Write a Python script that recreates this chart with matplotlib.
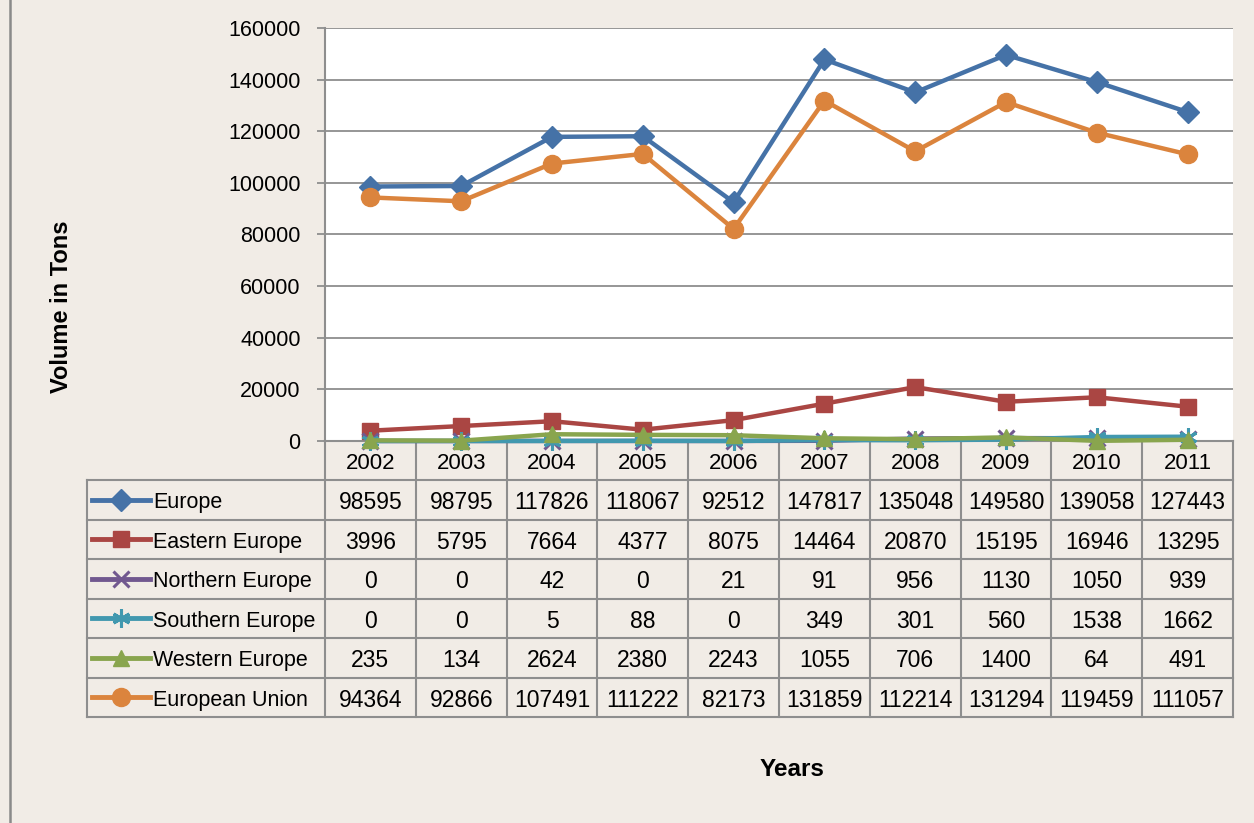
import matplotlib.pyplot as plt
import matplotlib.transforms as mtransforms
from matplotlib.lines import Line2D

plt.rcParams['font.family'] = ['Liberation Sans', 'DejaVu Sans']

years = ['2002', '2003', '2004', '2005', '2006', '2007', '2008', '2009', '2010', '2011']
series_names = ['Europe', 'Eastern Europe', 'Northern Europe', 'Southern Europe',
                'Western Europe', 'European Union']
europe = [98595, 98795, 117826, 118067, 92512, 147817, 135048, 149580, 139058, 127443]
eastern = [3996, 5795, 7664, 4377, 8075, 14464, 20870, 15195, 16946, 13295]
northern = [0, 0, 42, 0, 21, 91, 956, 1130, 1050, 939]
southern = [0, 0, 5, 88, 0, 349, 301, 560, 1538, 1662]
western = [235, 134, 2624, 2380, 2243, 1055, 706, 1400, 64, 491]
eu = [94364, 92866, 107491, 111222, 82173, 131859, 112214, 131294, 119459, 111057]
y_ticks = [0, 20000, 40000, 60000, 80000, 100000, 120000, 140000, 160000]

values = [europe, eastern, northern, southern, western, eu]
colors = ['#4572A7', '#AA4643', '#71588F', '#4198AF', '#89A54E', '#DB843D']
markers = ['D', 's', 'x', (6, 2, 0), '^', 'o']
msizes = [11, 11, 11, 13, 12, 13]

bg = '#F1ECE6'
grid_col = '#8E8E8E'
W, H = 1254, 823

fig = plt.figure(figsize=(W / 100, H / 100), dpi=100, facecolor=bg)
ax = fig.add_axes([325 / W, 1 - 441 / H, 908 / W, 413 / H])
ax.set_facecolor('white')

x = list(range(len(years)))
for vals, c, m, ms in zip(values, colors, markers, msizes):
    ax.plot(x, vals, color=c, lw=3.2, marker=m, markersize=ms,
            markeredgewidth=2.2 if m in ('x', (6, 2, 0)) else 1, markeredgecolor=c,
            clip_on=False, zorder=3)

ax.set_xlim(-0.5, len(years) - 0.5)
ax.set_ylim(0, 160000)
ax.set_yticks(y_ticks)
ax.set_yticklabels([str(t) for t in y_ticks], fontsize=15.5)
ax.set_xticks([])
ax.yaxis.grid(True, color=grid_col, lw=1.3)
ax.set_axisbelow(True)
ax.tick_params(axis='y', direction='out', length=6, width=1.3, color=grid_col, pad=11.5)
for s in ['top', 'right']:
    ax.spines[s].set_visible(False)
for s in ['left', 'bottom']:
    ax.spines[s].set_color(grid_col)
    ax.spines[s].set_linewidth(1.5)

# data table below the plot
px = 1 / 413  # one pixel in axes fraction (vertical)
hdr_bottom = -39 * px
row_h = 39.5 * px
n_rows = len(series_names)
table_bottom = hdr_bottom - n_rows * row_h
leg_left = (87 - 325) / 908
blend = mtransforms.blended_transform_factory(ax.transData, ax.transAxes)
tbl_kw = dict(color=grid_col, lw=1.5, clip_on=False)
txt_shift = 3 * px  # nudge text down a little to sit centred like the original

# vertical column lines
for i in range(len(years) + 1):
    ax.add_line(Line2D([i - 0.5, i - 0.5], [0, table_bottom], transform=blend, **tbl_kw))
ax.add_line(Line2D([leg_left, leg_left], [hdr_bottom, table_bottom],
                   transform=ax.transAxes, **tbl_kw))
# horizontal row lines
for r in range(n_rows + 1):
    yy = hdr_bottom - r * row_h
    ax.add_line(Line2D([leg_left, 1], [yy, yy], transform=ax.transAxes, **tbl_kw))

# year header
for i, yr in enumerate(years):
    ax.text(i, hdr_bottom / 2 - txt_shift, yr, transform=blend, ha='center', va='center',
            fontsize=16)

# rows with legend keys
key_x0, key_x1 = (92 - 325) / 908, (150 - 325) / 908
label_x = (153 - 325) / 908
for r, (name, vals, c, m, ms) in enumerate(zip(series_names, values, colors, markers, msizes)):
    yc = hdr_bottom - (r + 0.5) * row_h
    ax.add_line(Line2D([key_x0, key_x1], [yc, yc], transform=ax.transAxes, color=c, lw=3.5,
                       clip_on=False))
    ax.add_line(Line2D([(key_x0 + key_x1) / 2], [yc], transform=ax.transAxes, color=c,
                       marker=m, markersize=ms, markeredgecolor=c,
                       markeredgewidth=2.2 if m in ('x', (6, 2, 0)) else 1, clip_on=False))
    ax.text(label_x, yc - txt_shift, name, transform=ax.transAxes, ha='left', va='center',
            fontsize=15.5)
    for i, v in enumerate(vals):
        ax.text(i, yc - txt_shift, str(v), transform=blend, ha='center', va='center',
                fontsize=16.5)

# axis titles
fig.text(62 / W, 1 - 307 / H, 'Volume in Tons', rotation=90, ha='center', va='center',
         fontsize=17, fontweight='bold')
fig.text(792 / W, 1 - 770 / H, 'Years', ha='center', va='center',
         fontsize=17.5, fontweight='bold')

# left frame line
fig.add_artist(Line2D([10 / W, 10 / W], [0, 1], transform=fig.transFigure,
                      color='#8A8A8A', lw=1.8))

fig.savefig('out.png', dpi=100, facecolor=bg)
